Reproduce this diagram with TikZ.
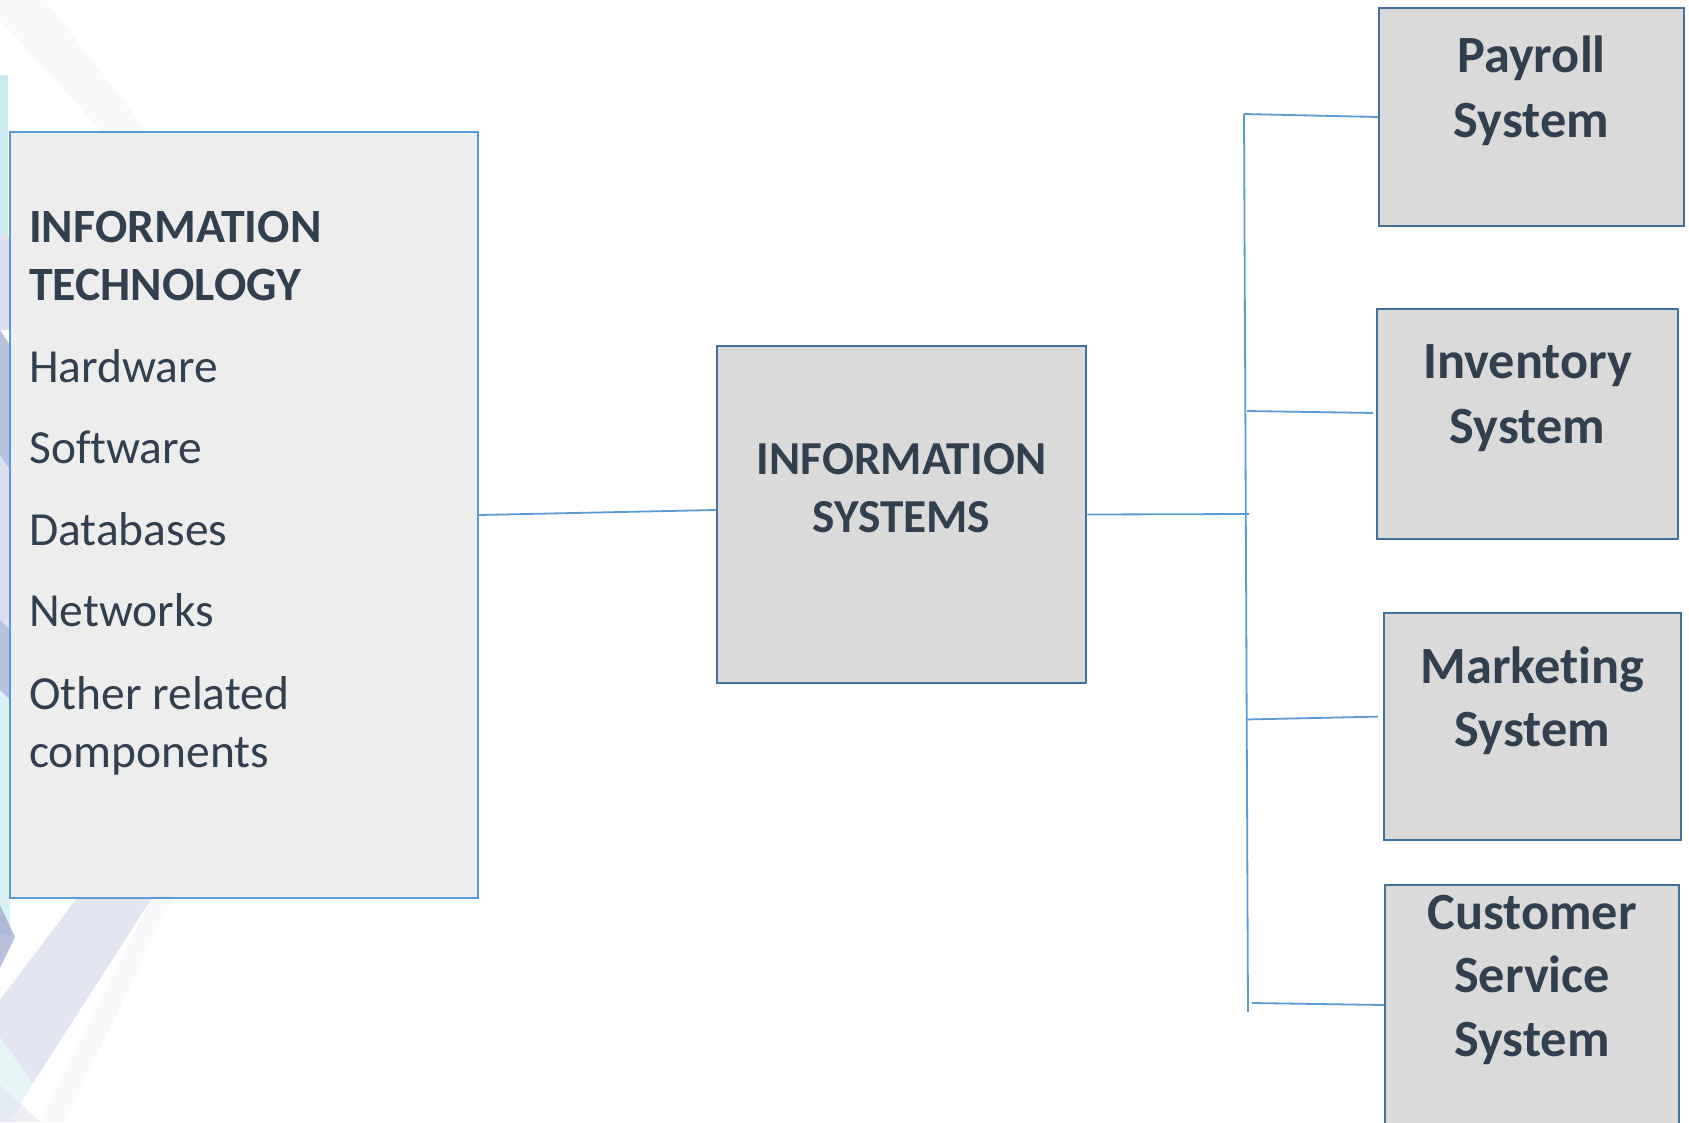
\documentclass[tikz,border=0pt]{standalone}
\usepackage{fontspec}
\setmainfont{Carlito}[Ligatures={NoCommon,NoRare,NoContextual}]
\definecolor{txt}{HTML}{323F4F}
\definecolor{lnblue}{HTML}{5B9BD5}
\definecolor{bdblue}{HTML}{41719C}
\definecolor{fillA}{HTML}{EDEDED}
\definecolor{fillB}{HTML}{DADADA}
\definecolor{teal}{HTML}{A8DCE2}
\definecolor{lav}{HTML}{C3CAE4}
\definecolor{dkblue}{HTML}{8C96C4}
\definecolor{paleg}{HTML}{EEF0F5}
\begin{document}
\begin{tikzpicture}[x=1pt,y=-1pt,
  itbox/.style={draw=lnblue, line width=1.5pt, fill=fillA, inner sep=0pt},
  sysbox/.style={draw=bdblue, line width=2.5pt, fill=fillB, inner sep=0pt},
  conn/.style={draw=lnblue, line width=1.8pt},
  deco/.style={fill opacity=0.6},
  ithead/.style={anchor=base west, inner sep=0pt, text=txt, font=\bfseries\fontsize{47.8}{58}\selectfont},
  ititem/.style={anchor=base west, inner sep=0pt, text=txt, font=\fontsize{47.5}{58}\selectfont},
  ctrtext/.style={anchor=base, inner sep=0pt, text=txt, font=\bfseries\fontsize{47.3}{58}\selectfont},
  systext/.style={anchor=base, inner sep=0pt, text=txt, font=\bfseries\fontsize{52.3}{64}\selectfont}
]
\useasboundingbox (0,0) rectangle (1689,1122);
\clip (0,0) rectangle (1689,1122);
\fill[white] (0,0) rectangle (1689,1122);
% faint background decoration at the left edge
\begin{scope}[deco]
\fill[paleg!60] (0,0) -- (45,0) -- (150,135) -- (105,135) -- (0,20) -- cycle;
\fill[teal] (0,75) rectangle (8,235);
\fill[lav] (0,235) rectangle (10,330);
\fill[dkblue] (0,330) -- (10,345) -- (10,470) -- (0,455) -- cycle;
\fill[lav] (0,455) -- (10,470) -- (10,630) -- (0,620) -- cycle;
\fill[dkblue] (0,620) -- (10,630) -- (10,700) -- (0,690) -- cycle;
\fill[teal!70] (0,690) -- (10,700) -- (10,935) -- (0,935) -- cycle;
\fill[dkblue] (0,905) -- (15,937) -- (0,968) -- cycle;
\fill[lav!80] (77,898) -- (152,898) -- (33,1083) -- (0,1037) -- (0,1000) -- cycle;
\fill[teal!45] (0,1037) -- (33,1083) -- (10,1122) -- (0,1122) -- cycle;
\fill[paleg!70] (152,898) -- (172,898) -- (65,1122) -- (40,1122) -- cycle;
\fill[lav!50] (0,1085) -- (40,1122) -- (0,1122) -- cycle;
\end{scope}
% boxes
\node[itbox, minimum width=468pt, minimum height=766pt] (lt) at (244,515) {};
\node[sysbox, minimum width=369pt, minimum height=337pt] (ctr) at (901.5,514.5) {};
\node[sysbox, minimum width=305pt, minimum height=218pt] (pay) at (1531.5,117) {};
\node[sysbox, minimum width=301pt, minimum height=230pt] (inv) at (1527.5,424) {};
\node[sysbox, minimum width=297pt, minimum height=227pt] (mkt) at (1532.5,726.5) {};
\node[sysbox, minimum width=294pt, minimum height=260pt] (cus) at (1532,1015) {};
% left box text
\node[ithead] (t1) at (29,242) {INFORMATION};
\node[ithead] (t2) at (29,300) {TECHNOLOGY};
\node[ititem] (t3) at (29,382) {Hardware};
\node[ititem] (t4) at (29,463) {Software};
\node[ititem] (t5) at (29,545) {Databases};
\node[ititem] (t6) at (29,626) {Networks};
\node[ititem] (t7) at (29,709) {Other related};
\node[ititem] (t8) at (29,767) {components};
% centre text
\node[ctrtext] (c1) at (901.5,474) {INFORMATION};
\node[ctrtext] (c2) at (901.5,532) {SYSTEMS};
% right texts
\node[systext] (p1) at (1531.5,72.5) {Payroll};
\node[systext] (p2) at (1531.5,137) {System};
\node[systext] (i1) at (1527.5,378.5) {Inventory};
\node[systext] (i2) at (1527.5,443) {System};
\node[systext] (m1) at (1532.5,683) {Marketing};
\node[systext] (m2) at (1532.5,746) {System};
\node[systext] (s1) at (1532,929) {Customer};
\node[systext] (s2) at (1532,992.5) {Service};
\node[systext] (s3) at (1532,1056) {System};
% connectors
\coordinate (bt) at (1244,114);
\coordinate (bb) at (1248,1012);
\coordinate (bj) at (1249,514);
\coordinate (bi) at (1247,411);
\coordinate (bm) at (1246,719.5);
\coordinate (bc) at (1252,1003);
\draw[conn] (lt.east) -- ([yshift=4.5pt]ctr.west);
\draw[conn] (ctr.east) -- (bj);
\draw[conn] (bt) -- (bb);
\draw[conn] (bt) -- (pay.west);
\draw[conn, shorten >=3pt] (bi) -- ([yshift=11pt]inv.west);
\draw[conn, shorten >=5pt] (bm) -- ([yshift=10pt]mkt.west);
\draw[conn] (bc) -- ([yshift=10pt]cus.west);
\end{tikzpicture}
\end{document}
